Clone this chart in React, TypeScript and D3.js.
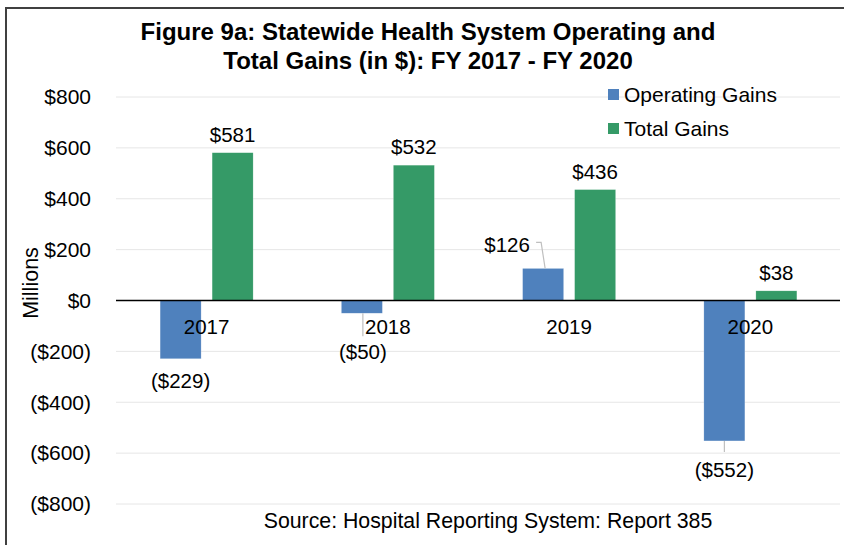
import React from 'react';
import * as d3 from 'd3';

const years = ['2017', '2018', '2019', '2020'];
const operatingGains = [-229, -50, 126, -552];
const totalGains = [581, 532, 436, 38];
const yTicks = [800, 600, 400, 200, 0, -200, -400, -600, -800];
const seriesNames = ['Operating Gains', 'Total Gains'];
const colors = ['#4F81BD', '#359A67'];

const W = 844;
const H = 545;
const FONT = '"Liberation Sans", Arial, sans-serif';

const fmt = (v: number) => (v < 0 ? `($${Math.abs(v)})` : `$${v}`);

export default function App() {
  const y = d3.scaleLinear().domain([-800, 800]).range([504, 97]);
  const x = d3.scaleBand().domain(years).range([116, 841]).padding(0);
  const x1 = d3.scaleBand().domain(seriesNames).range([0, 93]).paddingInner(11 / 52);
  const left = (yr: string) => (x(yr) as number) + x.bandwidth() / 2 - 46.5;
  const gx0 = 116;
  const gx1 = 840;

  const bars = years.flatMap((yr, i) =>
    [operatingGains[i], totalGains[i]].map((v, s) => ({ yr, v, s, i }))
  );

  // where each operating-gain label sits, plus its leader line if any
  const opLabel = (i: number) => {
    const v = operatingGains[i];
    const cx = left(years[i]) + (x1(seriesNames[0]) as number) + x1.bandwidth() / 2;
    const end = y(v);
    if (i === 1) {
      return { cx: cx + 1, cy: end + 39, line: [[cx + 1, end], [cx + 1, end + 23]] };
    }
    if (i === 2) {
      return { cx: cx - 36, cy: end - 24, line: [[cx - 7, end - 26], [cx - 2, end - 26], [cx + 2, end]] };
    }
    if (i === 3) {
      return { cx: cx, cy: end + 29, line: [[cx, end], [cx, end + 11]] };
    }
    return { cx, cy: end + 22, line: null };
  };

  return (
    <svg width={W} height={H} style={{ position: 'absolute', left: 0, top: 0, background: '#fff' }} fontFamily={FONT}>
      <rect x={6} y={8} width={W + 10} height={H + 10} fill="#fff" stroke="#404040" strokeWidth={2} />

      <text x={428} y={39.5} textAnchor="middle" fontSize={24} fontWeight="bold" fill="#000">
        Figure 9a: Statewide Health System Operating and
      </text>
      <text x={428} y={68.5} textAnchor="middle" fontSize={24} fontWeight="bold" fill="#000">
        Total Gains (in $): FY 2017 - FY 2020
      </text>

      {yTicks.map(t => (
        <g key={t}>
          {t !== 0 && <line x1={gx0} x2={gx1} y1={y(t)} y2={y(t)} stroke="#E6E6E6" strokeWidth={1} />}
          <text x={91} y={y(t)} dy="0.35em" textAnchor="end" fontSize={21} fill="#000">
            {fmt(t)}
          </text>
        </g>
      ))}

      <text transform={`translate(37.5,283) rotate(-90)`} textAnchor="middle" fontSize={21.5} fill="#000">
        Millions
      </text>

      {bars.map(b => {
        const bx = left(b.yr) + (x1(seriesNames[b.s]) as number);
        return (
          <rect
            key={`${b.yr}-${b.s}`}
            x={bx}
            y={Math.min(y(b.v), y(0))}
            width={x1.bandwidth()}
            height={Math.abs(y(b.v) - y(0))}
            fill={colors[b.s]}
            stroke="#fff"
            strokeOpacity={0.4}
            strokeWidth={0.5}
          />
        );
      })}

      <line x1={gx0} x2={gx1} y1={y(0)} y2={y(0)} stroke="#000" strokeWidth={1.5} />

      {years.map(yr => (
        <text key={yr} x={(x(yr) as number) + x.bandwidth() / 2} y={327} dy="0.35em" textAnchor="middle" fontSize={20.5} fill="#000">
          {yr}
        </text>
      ))}

      {years.map((yr, i) => {
        const l = opLabel(i);
        return (
          <g key={`op-${yr}`}>
            {l.line && (
              <polyline points={l.line.map(p => p.join(',')).join(' ')} fill="none" stroke="#BFBFBF" strokeWidth={1.2} />
            )}
            <text x={l.cx} y={l.cy} dy="0.35em" textAnchor="middle" fontSize={20.5} fill="#000">
              {fmt(operatingGains[i])}
            </text>
          </g>
        );
      })}

      {years.map((yr, i) => (
        <text
          key={`tot-${yr}`}
          x={left(yr) + (x1(seriesNames[1]) as number) + x1.bandwidth() / 2}
          y={y(totalGains[i]) - 18}
          dy="0.35em"
          textAnchor="middle"
          fontSize={20.5}
          fill="#000"
        >
          {fmt(totalGains[i])}
        </text>
      ))}

      {seriesNames.map((s, i) => (
        <g key={s}>
          <rect x={608} y={89 + i * 34} width={11} height={11} fill={colors[i]} />
          <text x={624} y={94.5 + i * 34} dy="0.35em" fontSize={21} fill="#000">
            {s}
          </text>
        </g>
      ))}

      <text x={488} y={521} dy="0.35em" textAnchor="middle" fontSize={21.3} fill="#000">
        Source: Hospital Reporting System: Report 385
      </text>
    </svg>
  );
}
